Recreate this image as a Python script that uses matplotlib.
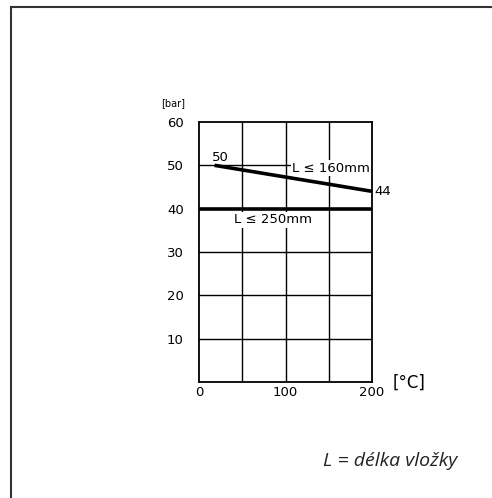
import matplotlib.pyplot as plt
from matplotlib.lines import Line2D

# data
temp_160 = [18, 200]
pressure_160 = [50, 44]
temp_250 = [0, 200]
pressure_250 = [40, 40]
x_ticks = [0, 100, 200]
y_ticks = [10, 20, 30, 40, 50, 60]

W, H = 492, 498
fig = plt.figure(figsize=(W / 100, H / 100), dpi=100)

# plot area in pixel coords: left 199, right 372, top 122, bottom 382
ax = fig.add_axes([199 / W, 1 - 382 / H, (372 - 199) / W, (382 - 122) / H])
ax.set_xlim(0, 200)
ax.set_ylim(0, 60)

# grid
for gx in [50, 100, 150]:
    ax.axvline(gx, color='black', lw=1, zorder=1)
for gy in [10, 20, 30, 50]:
    ax.axhline(gy, color='black', lw=1, zorder=1)

ax.plot(temp_160, pressure_160, color='black', lw=2.6, solid_capstyle='butt', zorder=3)
ax.plot(temp_250, pressure_250, color='black', lw=2.6, solid_capstyle='butt', zorder=3)

for s in ax.spines.values():
    s.set_linewidth(1.3)

ax.set_xticks(x_ticks)
ax.set_yticks(y_ticks)
ax.tick_params(axis='y', length=0, labelsize=9.5, pad=11)
ax.tick_params(axis='x', length=0, labelsize=9.5, pad=3)

txt = dict(fontsize=9.5, color='black', zorder=2.5)
box = dict(facecolor='white', edgecolor='none', pad=1)
ax.text(15, 50.4, '50', ha='left', va='bottom', **txt)
ax.text(203, 44, '44', ha='left', va='center', clip_on=False, **txt)
ax.text(108, 49.3, 'L ≤ 160mm', ha='left', va='center', bbox=box, clip_on=False, **txt)
ax.text(85, 37.4, 'L ≤ 250mm', ha='center', va='center', bbox=box, **txt)

fig.text(173 / W, 1 - 103 / H, '[bar]', fontsize=7, ha='center', va='center')
fig.text(409 / W, 1 - 383 / H, '[°C]', fontsize=12, ha='center', va='center')
fig.text(390 / W, 1 - 461 / H, 'L = délka vložky', fontsize=14, style='italic',
         family='Open Sans', color='#222222', ha='center', va='center')

# page frame (top and left edges)
fig.add_artist(Line2D([10.5 / W, 1], [1 - 7.5 / H, 1 - 7.5 / H], color='#333333', lw=1.5))
fig.add_artist(Line2D([10.5 / W, 10.5 / W], [0, 1 - 7.5 / H], color='#333333', lw=1.5))

fig.savefig('out.png', dpi=100)
